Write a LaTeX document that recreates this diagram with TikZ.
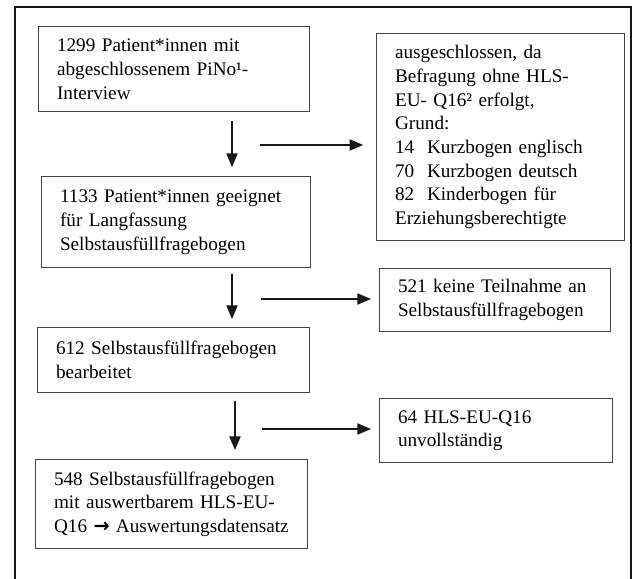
\documentclass[tikz,border=0pt]{standalone}
\usepackage{fontspec}
\setmainfont{Liberation Serif}
\newfontfamily\arrowfont{DejaVu Sans}
\usepackage{xcolor}
\usetikzlibrary{arrows.meta,calc,positioning}
\definecolor{frameline}{RGB}{20,20,20}
\definecolor{boxline}{RGB}{70,70,70}
\definecolor{arrowline}{RGB}{25,25,25}

\begin{document}
\begin{tikzpicture}[
    x=0.625pt, y=-0.625pt,
    >={Triangle[length=8.5pt, width=7pt]},
    stepbox/.style={draw=boxline, line width=0.8pt, anchor=north west, align=left,
        inner xsep=11.5pt, inner ysep=0pt, font=\fontsize{12}{14.8}\selectfont},
    flow/.style={arrowline, line width=0.75pt, ->}
]

% Page area
\useasboundingbox (0,0) rectangle (634,579);

% Outer frame (open at the bottom)
\draw[frameline, line width=1.1pt] (15,579) -- (15,7) -- (631,7) -- (631,579);

% Main column
\node[stepbox, minimum width=169.4pt, minimum height=53.1pt, text width=146.4pt] (PINO) at (38,26) {
    1299 Patient*innen mit\\
    abgeschlossenem PiNo¹-\\
    Interview
};
\node[stepbox, minimum width=168.1pt, minimum height=56.9pt, text width=145.1pt] (GEEIGNET) at (41,176) {
    1133 Patient*innen geeignet\\
    für Langfassung\\
    Selbstausfüllfragebogen
};
\node[stepbox, minimum width=170pt, minimum height=40.6pt, text width=147pt] (BEARB) at (37,327) {
    612 Selbstausfüllfragebogen\\
    bearbeitet
};
\node[stepbox, minimum width=170pt, minimum height=55.6pt, text width=147pt] (FINAL) at (35,459) {
    548 Selbstausfüllfragebogen\\
    mit auswertbarem HLS-EU-\\
    \mbox{Q16 {\arrowfont\bfseries →} Auswertungsdatensatz}
};

% Exclusions (right)
\node[stepbox, minimum width=155pt, minimum height=129.4pt, text width=132pt] (EXCL) at (376,33) {
    ausgeschlossen, da\\
    Befragung ohne HLS-\\
    EU- Q16² erfolgt,\\
    Grund:\\
    14\ \ Kurzbogen englisch\\
    70\ \ Kurzbogen deutsch\\
    82\ \ Kinderbogen für\\
    Erziehungsberechtigte
};
\node[stepbox, minimum width=144.4pt, minimum height=39.4pt, text width=121.4pt] (NOPART) at (379,268) {
    521 keine Teilnahme an\\
    Selbstausfüllfragebogen
};
\node[stepbox, minimum width=145.6pt, minimum height=40pt, text width=122.6pt] (INCOMPL) at (379,398) {
    64 HLS-EU-Q16\\
    unvollständig
};

% Down arrows
\coordinate (COL_A) at (232,0);
\coordinate (COL_B) at (235,0);
\draw[flow, shorten <=5.6pt, shorten >=5.6pt] (PINO.south -| COL_A) -- (GEEIGNET.north -| COL_A);
\draw[flow, shorten <=3.8pt, shorten >=5pt] (GEEIGNET.south -| COL_A) -- (BEARB.north -| COL_A);
\draw[flow, shorten <=5pt, shorten >=5.6pt] (BEARB.south -| COL_B) -- (FINAL.north -| COL_B);

% Side arrows
\coordinate (OUT_A) at (260,145);
\coordinate (OUT_B) at (261,299);
\coordinate (OUT_C) at (262,429);
\draw[flow, shorten >=8pt] (OUT_A) -- (OUT_A -| EXCL.west);
\draw[flow, shorten >=5pt] (OUT_B) -- (OUT_B -| NOPART.west);
\draw[flow, shorten >=5pt] (OUT_C) -- (OUT_C -| INCOMPL.west);

\end{tikzpicture}
\end{document}
